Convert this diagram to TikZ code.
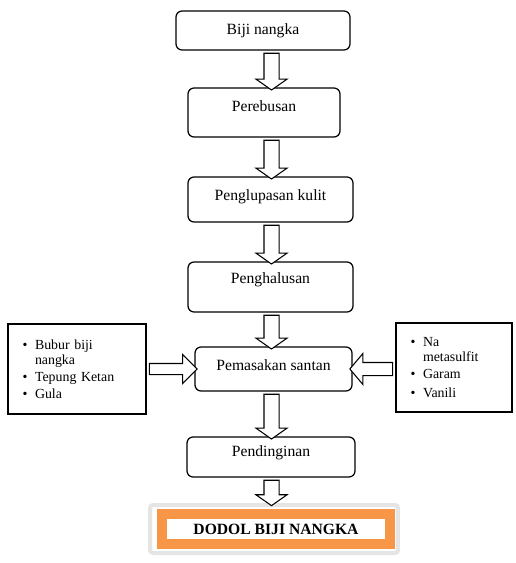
\documentclass[tikz,border=0pt]{standalone}
\usepackage{fontspec}
\setmainfont{Liberation Serif}
\usetikzlibrary{shapes.arrows,calc}
\definecolor{oranye}{HTML}{F79646}

% panah blok dari titik #2 ke titik #3
\newcommand{\panah}[3][]{%
  \path let \p1=($(#3)-(#2)$), \n1={veclen(\x1,\y1)}, \n2={atan2(\y1,\x1)} in
    node[blokpanah, minimum height=\n1, rotate=\n2, #1] at ($(#2)!0.5!(#3)$) {};}
\newcommand{\butir}{\textbullet\hspace{0.55em}}
\newcommand{\lanjut}{\phantom{\textbullet}\hspace{0.55em}}

\begin{document}
\begin{tikzpicture}[x=0.02cm, y=-0.02cm,
    proses/.style={draw, rounded corners=0.12cm, line width=0.7pt, font=\fontsize{8.9}{10.7}\selectfont},
    bahan/.style={draw, line width=0.7pt, align=left, inner xsep=0.29cm, font=\fontsize{7.9}{8.5}\selectfont},
    blokpanah/.style={single arrow, draw, fill=white, line width=0.6pt, inner sep=0.14cm,
        single arrow head extend=0.16cm, single arrow tip angle=110}]
    \useasboundingbox (0,0) rectangle (515,563);

    % Tahapan proses
    \node[proses, minimum width=3.48cm, minimum height=0.78cm] (biji) at (263,30.5) {Biji nangka};
    \node[proses, minimum width=3.04cm, minimum height=0.98cm, text depth=0.26cm] (rebus) at (264,112.5) {Perebusan};
    \node[proses, minimum width=3.3cm, minimum height=0.9cm, text depth=0.17cm] (kupas) at (270.5,199.5) {Penglupasan kulit};
    \node[proses, minimum width=3.3cm, minimum height=1cm, text depth=0.35cm] (halus) at (270.5,287) {Penghalusan};
    \node[proses, minimum width=3.14cm, minimum height=0.88cm, text depth=0.16cm] (masak) at (273.5,369) {Pemasakan santan};
    \node[proses, minimum width=3.36cm, minimum height=0.8cm, text depth=0.23cm] (dingin) at (271,457) {Pendinginan};

    % Bahan tambahan kiri dan kanan
    \node[bahan, minimum height=1.8cm, text width=2.18cm] (kiri) at (77,369)
        {\butir Bubur biji\\ \lanjut nangka\\[1.1pt] \butir Tepung Ketan\\[1.1pt] \butir Gula};
    \node[bahan, minimum height=1.78cm, text width=1.74cm] (kanan) at (454,367.5)
        {\butir Na\\ \lanjut metasulfit\\[1.1pt] \butir Garam\\[2pt] \butir Vanili};

    % Hasil akhir
    \node[draw=black!10, line width=0.08cm, fill=white, rounded corners=0.06cm,
        minimum width=4.96cm, minimum height=0.96cm] (bingkai) at (274,529) {};
    \node[draw=oranye, line width=0.2cm, fill=white, minimum width=4.56cm, minimum height=0.6cm,
        font=\fontsize{8.9}{10.7}\selectfont\bfseries] (dodol) at (276,529) {DODOL BIJI NANGKA};

    % Panah antar tahapan
    \coordinate (sumbu) at (271.5,0);
    \panah{biji.south -| sumbu}{rebus.north -| sumbu}
    \panah{rebus.south -| sumbu}{kupas.north -| sumbu}
    \panah{kupas.south -| sumbu}{halus.north -| sumbu}
    \panah{halus.south -| sumbu}{masak.north -| sumbu}
    \panah{masak.south -| sumbu}{dingin.north -| sumbu}
    \panah{dingin.south -| sumbu}{bingkai.north -| sumbu}
    \panah[inner sep=0.1cm, single arrow head extend=0.18cm, single arrow tip angle=90]{kiri.east}{masak.west}
    \panah[inner sep=0.12cm, single arrow head extend=0.18cm, single arrow tip angle=100]{masak.east -| kanan.west}{masak.east}

\end{tikzpicture}
\end{document}
